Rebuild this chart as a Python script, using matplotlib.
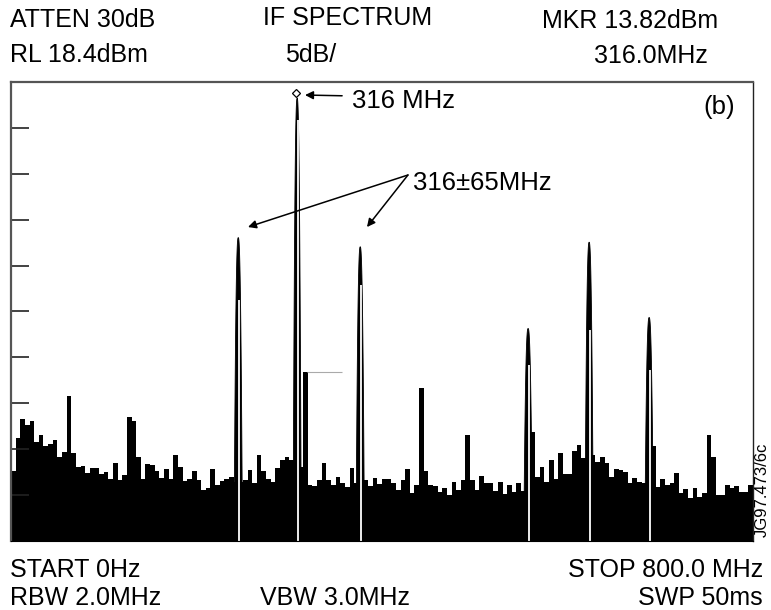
import matplotlib
matplotlib.use('Agg')
import matplotlib.pyplot as plt
import numpy as np

# analyser settings
ref_level = 18.4      # dBm, top of screen
db_per_div = 5
f_start, f_stop = 0, 800   # MHz

# noise floor, one value per 5 MHz bin (dBm)
bin_start = np.arange(0, 800, 5)
noise = [-24.0, -20.4, -18.3, -19.0, -18.5, -20.8, -20.0, -21.2, -21.0, -20.6,
         -22.4, -21.9, -15.8, -22.0, -23.5, -23.4, -24.2, -23.6, -23.6, -24.3,
         -24.1, -24.8, -23.1, -25.0, -24.4, -18.1, -18.5, -22.4, -24.8, -23.2,
         -23.3, -24.0, -24.7, -23.8, -24.8, -22.2, -23.5, -25.1, -24.9, -24.0,
         -25.0, -26.0, -25.8, -23.8, -25.5, -25.1, -24.9, -24.6, -25.2, -25.2,
         -25.0, -23.9, -25.3, -22.2, -24.0, -24.8, -25.2, -23.6, -22.8, -22.4,
         -22.8, -23.5, -23.5, -13.2, -25.5, -25.6, -25.0, -23.1, -25.0, -25.5,
         -24.6, -25.3, -25.7, -23.6, -25.3, -12.4, -25.0, -25.6, -24.7, -25.4,
         -24.8, -24.8, -25.3, -26.0, -25.0, -23.8, -26.4, -25.5, -14.9, -24.0,
         -25.5, -25.6, -26.3, -25.8, -26.6, -25.2, -26.0, -25.0, -20.0, -25.0,
         -26.0, -24.5, -25.3, -25.3, -26.2, -25.2, -26.5, -25.5, -26.3, -25.3,
         -26.1, -26.0, -19.7, -24.6, -23.5, -25.2, -22.8, -24.9, -22.0, -24.3,
         -24.3, -21.8, -21.1, -22.6, -22.8, -22.2, -23.0, -22.5, -23.1, -24.6,
         -23.8, -23.9, -24.1, -25.3, -24.7, -25.2, -25.3, -25.0, -21.2, -25.7,
         -24.8, -25.5, -25.3, -24.2, -26.4, -25.9, -26.9, -25.8, -26.8, -26.4,
         -20.0, -22.5, -26.6, -26.6, -25.5, -25.8, -25.6, -26.3, -26.3, -25.5]

# strong spectral lines
peak_freq = [244.5, 308.0, 376.0, 557.0, 622.8, 687.5]
peak_level = [1.5, 16.7, 0.5, -8.4, 1.0, -7.2]
# white retrace gaps inside the lines (freq, top of gap in dBm)
gap_freq = [245.6, 309.1, 377.1, 558.1, 623.9, 688.6]
gap_top = [-5.3, 14.3, -3.7, -12.4, -8.6, -13.0]

bottom = ref_level - 10 * db_per_div

fig = plt.figure(figsize=(7.71, 6.10), dpi=100)
ax = fig.add_axes([11/771, 1 - 541/610, 742/771, 459/610])

edges = np.append(bin_start, f_stop)
lev = np.append(noise, noise[-1])
ax.fill_between(edges, lev, bottom, step='post', color='black', lw=0)

for f, p in zip(peak_freq, peak_level):
    hw = 4.2
    df = np.linspace(-hw, hw, 81)
    shape = p - (p + 26) * np.abs(df / hw) ** 2.5
    ax.fill_between(f + df, shape, bottom, facecolor='black', lw=0.6,
                    edgecolor='black')

ax.vlines(gap_freq, bottom, gap_top, color='white', lw=1.3)
ax.hlines(-13.2, 319, 357, color='#aaaaaa', lw=0.8)

# marker on the carrier
ax.plot(peak_freq[1] - 0.8, peak_level[1] + 0.45, marker='D', ms=4.5,
        mfc='white', mec='black', mew=0.9, zorder=5)

ax.set_xlim(f_start, f_stop)
ax.set_ylim(bottom, ref_level)
ax.set_xticks([])
ax.set_yticks([ref_level - db_per_div * k for k in range(1, 10)])
ax.tick_params(axis='y', direction='in', length=13, width=1.2, color='#222222',
               labelleft=False)
for s in ['left', 'top']:
    ax.spines[s].set_color('#555555')
    ax.spines[s].set_linewidth(1.6)
ax.spines['right'].set_color('#222222')
ax.spines['right'].set_linewidth(1.0)
ax.spines['bottom'].set_color('black')

afont = dict(family=['Liberation Sans', 'DejaVu Sans'], fontsize=18.5)
arrow = dict(arrowstyle='-|>', color='black', lw=1.1, mutation_scale=12,
             shrinkA=0, shrinkB=0)
ax.annotate('', xy=(317, 16.98), xytext=(357, 16.9), arrowprops=arrow)
ax.text(367.7, 16.3, '316 MHz', va='center', ha='left', **afont)
for tx in [(255.5, 2.6), (383.8, 2.6)]:
    ax.annotate('', xy=tx, xytext=(428, 8.27), arrowprops=arrow)
ax.text(433.4, 7.4, '316\u00b165MHz', va='center', ha='left', **afont)
ax.text(746, 15.7, '(b)', va='center', ha='left', **afont)

hfont = dict(family=['Liberation Sans', 'DejaVu Sans'], fontsize=18)

def label(x, y, s, ha='left'):
    fig.text(x / 771, 1 - y / 610, s, ha=ha, va='center', **hfont)

label(10, 20, 'ATTEN 30dB')
label(10, 55, 'RL 18.4dBm')
label(263, 18, 'IF SPECTRUM')
label(285, 55, '5dB/')
label(718, 21, 'MKR 13.82dBm', ha='right')
label(708, 56, '316.0MHz', ha='right')
label(10, 570, 'START 0Hz')
label(763, 570, 'STOP 800.0 MHz', ha='right')
label(10, 598, 'RBW 2.0MHz')
label(260, 598, 'VBW 3.0MHz')
label(763, 598, 'SWP 50ms', ha='right')

fig.text(762 / 771, 1 - 490 / 610, 'JG97.473/6c', rotation=90, ha='center',
         va='center', family=['Liberation Sans', 'DejaVu Sans'], fontsize=12)

fig.savefig('out.png', dpi=100)
